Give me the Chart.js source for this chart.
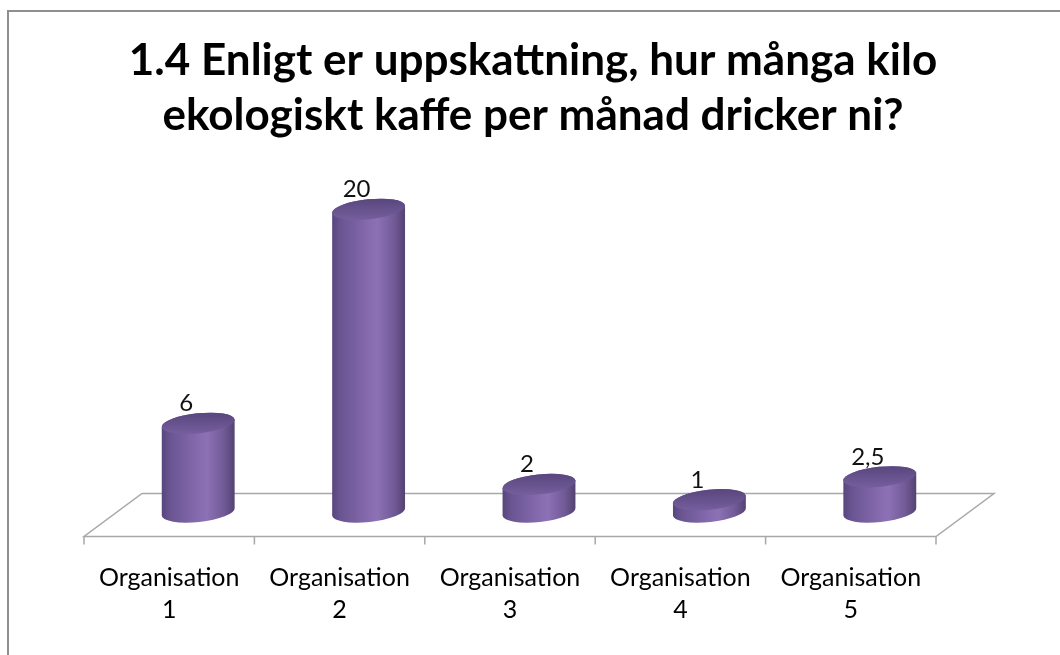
<!DOCTYPE html>
<html>
<head>
<meta charset="utf-8">
<script src="https://cdn.jsdelivr.net/npm/chart.js@4/dist/chart.umd.min.js"></script>
<style>
  html, body { margin: 0; padding: 0; background: #fff; }
  #c { display: block; }
</style>
</head>
<body>
<canvas id="c" width="1060" height="655"></canvas>
<script>
// ---------- data ----------
const titleLines = ['1.4 Enligt er uppskattning, hur många kilo', 'ekologiskt kaffe per månad dricker ni?'];
const categories = [['Organisation', '1'], ['Organisation', '2'], ['Organisation', '3'], ['Organisation', '4'], ['Organisation', '5']];
const kiloPerMonth = [6, 20, 2, 1, 2.5];

// ---------- 3d look helpers ----------
const FLOOR_DX = 58;     // back edge shift to the right
const FLOOR_DY = 21.5;   // half depth in y
const TILT = -6 * Math.PI / 180;
const RY = 10;

function svNumber(v) { return String(v).replace('.', ','); }

// white background + grey frame (like the excel chart border)
const framePlugin = {
  id: 'frame',
  beforeDraw(chart) {
    const ctx = chart.ctx;
    ctx.save();
    ctx.fillStyle = '#fff';
    ctx.fillRect(0, 0, chart.width, chart.height);
    ctx.strokeStyle = '#8f8f8f';
    ctx.lineWidth = 2;
    ctx.beginPath();
    ctx.moveTo(8, chart.height);
    ctx.lineTo(8, 11);
    ctx.lineTo(chart.width, 11);
    ctx.stroke();
    ctx.restore();
  }
};

// floor parallelogram + tick marks on the front edge
const floorPlugin = {
  id: 'floor',
  beforeDatasetsDraw(chart) {
    const ctx = chart.ctx;
    const a = chart.chartArea;
    const front = a.bottom + FLOOR_DY;
    const back = a.bottom - FLOOR_DY;
    ctx.save();
    ctx.strokeStyle = '#a8a8a8';
    ctx.lineWidth = 1.5;
    ctx.beginPath();
    ctx.moveTo(a.left, front);
    ctx.lineTo(a.right, front);
    ctx.lineTo(a.right + FLOOR_DX, back);
    ctx.lineTo(a.left + FLOOR_DX, back);
    ctx.closePath();
    ctx.stroke();
    const n = categories.length;
    const step = (a.right - a.left) / n;
    ctx.beginPath();
    for (let i = 0; i <= n; i++) {
      const x = a.left + i * step;
      ctx.moveTo(x, front);
      ctx.lineTo(x, front + 8);
    }
    ctx.stroke();
    ctx.restore();
  }
};

// draw every bar as a purple cylinder + its value label
const cylinderPlugin = {
  id: 'cylinders',
  afterDatasetsDraw(chart) {
    const ctx = chart.ctx;
    const meta = chart.getDatasetMeta(0);
    ctx.save();
    meta.data.forEach((bar, i) => {
      const cx = bar.x + FLOOR_DX / 2;
      const rx = bar.width / 2;
      const yTop = bar.y;
      const yBot = bar.base - 3;

      // body
      const g = ctx.createLinearGradient(cx - rx, 0, cx + rx, 0);
      g.addColorStop(0, '#57457c');
      g.addColorStop(0.12, '#6a5592');
      g.addColorStop(0.5, '#866bae');
      g.addColorStop(0.62, '#8c71b5');
      g.addColorStop(0.85, '#715a97');
      g.addColorStop(1, '#534270');
      ctx.beginPath();
      ctx.ellipse(cx, yBot, rx, RY, TILT, 0, Math.PI, false);
      ctx.ellipse(cx, yTop, rx, RY, TILT, Math.PI, 2 * Math.PI, false);
      ctx.closePath();
      ctx.fillStyle = g;
      ctx.fill();

      // top cap
      const gt = ctx.createLinearGradient(0, yTop - RY, 0, yTop + RY);
      gt.addColorStop(0, '#5a477e');
      gt.addColorStop(1, '#745e9d');
      ctx.beginPath();
      ctx.ellipse(cx, yTop, rx, RY, TILT, 0, 2 * Math.PI);
      ctx.fillStyle = gt;
      ctx.fill();

      // value label
      ctx.fillStyle = '#111';
      ctx.font = '24px Lato, "Open Sans", sans-serif';
      ctx.textAlign = 'center';
      ctx.textBaseline = 'alphabetic';
      ctx.fillText(svNumber(kiloPerMonth[i]), cx - 12, yTop - 12);
    });
    ctx.restore();
  }
};

const ctx = document.getElementById('c').getContext('2d');
new Chart(ctx, {
  type: 'bar',
  data: {
    labels: categories,
    datasets: [{
      data: kiloPerMonth,
      backgroundColor: 'rgba(0,0,0,0)',
      borderWidth: 0,
      categoryPercentage: 1,
      barPercentage: 0.43
    }]
  },
  options: {
    responsive: false,
    animation: false,
    events: [],
    layout: { padding: { left: 84, right: 78, top: 0, bottom: 0 } },
    plugins: {
      legend: { display: false },
      tooltip: { enabled: false },
      title: {
        display: true,
        text: titleLines,
        color: '#000',
        font: { family: 'Lato, "Open Sans", sans-serif', size: 44, weight: 'bold', lineHeight: 1.25 },
        padding: { top: 33, bottom: 51 }
      }
    },
    scales: {
      x: {
        grid: { display: false, drawTicks: false },
        border: { display: false },
        ticks: {
          color: '#000',
          padding: 47,
          maxRotation: 0,
          font: { family: 'Lato, "Open Sans", sans-serif', size: 25, lineHeight: 1.28 }
        },
        afterFit(scale) { scale.height = 140; }
      },
      y: {
        position: 'right',
        min: 0,
        max: 21,
        grid: { display: false, drawTicks: false },
        border: { display: false },
        ticks: { display: false },
        afterFit(scale) { scale.width = 46; }
      }
    }
  },
  plugins: [framePlugin, floorPlugin, cylinderPlugin]
});
</script>
</body>
</html>
